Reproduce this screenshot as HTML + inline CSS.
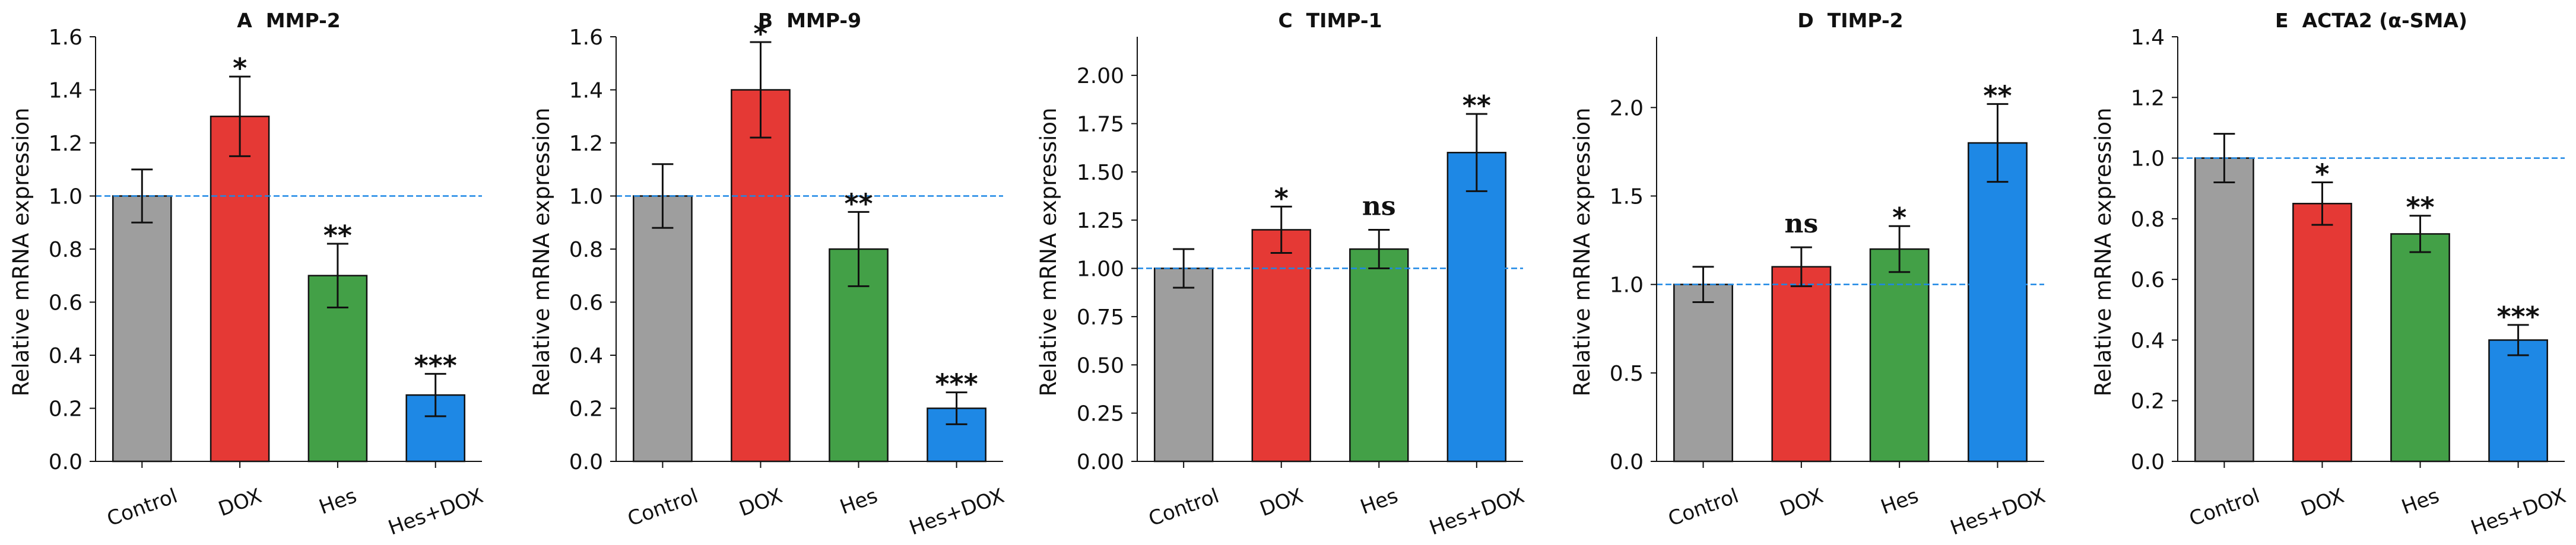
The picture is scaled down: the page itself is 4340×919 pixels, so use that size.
<!DOCTYPE html>
<html><head><meta charset="utf-8">
<style>
html,body{margin:0;padding:0;background:#fff;}
svg{display:block;}
text{font-family:"DejaVu Sans","Liberation Sans",sans-serif;fill:#111;white-space:pre;}
</style></head>
<body>
<svg id="fig" width="4340" height="919" viewBox="0 0 4340 919" xmlns="http://www.w3.org/2000/svg" xml:space="preserve"></svg>
<script>
// ---- data ----
const categories = ["Control","DOX","Hes","Hes+DOX"];
const panelTitles = ["A  MMP-2","B  MMP-9","C  TIMP-1","D  TIMP-2","E  ACTA2 (\u03b1-SMA)"];
const meansA = [1.0, 1.3, 0.7, 0.25];
const errsA  = [0.1, 0.15, 0.12, 0.08];
const sigA   = ["", "*", "**", "***"];
const meansB = [1.0, 1.4, 0.8, 0.2];
const errsB  = [0.12, 0.18, 0.14, 0.06];
const sigB   = ["", "*", "**", "***"];
const meansC = [1.0, 1.2, 1.1, 1.6];
const errsC  = [0.1, 0.12, 0.1, 0.2];
const sigC   = ["", "*", "ns", "**"];
const meansD = [1.0, 1.1, 1.2, 1.8];
const errsD  = [0.1, 0.11, 0.13, 0.22];
const sigD   = ["", "ns", "*", "**"];
const meansE = [1.0, 0.85, 0.75, 0.4];
const errsE  = [0.08, 0.07, 0.06, 0.05];
const sigE   = ["", "*", "**", "***"];
const yTicksA = [0,0.2,0.4,0.6,0.8,1.0,1.2,1.4,1.6];
const yTicksC = [0,0.25,0.5,0.75,1.0,1.25,1.5,1.75,2.0];
const yTicksD = [0,0.5,1.0,1.5,2.0];
const yTicksE = [0,0.2,0.4,0.6,0.8,1.0,1.2,1.4];
const yMaxes = [1.6, 1.6, 2.2, 2.4, 1.4];
const refLine = 1.0;

const colors = ["#9e9e9e","#e53935","#43a047","#1e88e5"];
const NS = "http://www.w3.org/2000/svg";
const svg = document.getElementById("fig");
function mk(tag, attrs, parent){
  const e = document.createElementNS(NS, tag);
  for (const k in attrs) e.setAttribute(k, attrs[k]);
  (parent||svg).appendChild(e);
  return e;
}
const panels = [
  {left:161, right:812, means:meansA, errs:errsA, sig:sigA, ticks:yTicksA, dec:1},
  {left:1038, right:1690, means:meansB, errs:errsB, sig:sigB, ticks:yTicksA, dec:1},
  {left:1916, right:2566, means:meansC, errs:errsC, sig:sigC, ticks:yTicksC, dec:2},
  {left:2791, right:3444, means:meansD, errs:errsD, sig:sigD, ticks:yTicksD, dec:1},
  {left:3669, right:4321, means:meansE, errs:errsE, sig:sigE, ticks:yTicksE, dec:1}
];
const TOP = 62, BOT = 778;
panels.forEach((p, pi) => {
  const g = mk("g", {});
  
  
  const ymax = yMaxes[pi];
  const y = v => BOT - v / ymax * (BOT - TOP);
  const xmin = -0.475, xmax = 3.475;
  const x = i => p.left + (i - xmin) / (xmax - xmin) * (p.right - p.left);
  const step = x(1) - x(0);
  const bw = step * 0.595;
  const t = mk("text", {x:(p.left+p.right)/2, y:46, "text-anchor":"middle", "font-size":33, "font-weight":"bold"}, g);
  t.textContent = panelTitles[pi];
  
  
  p.means.forEach((m, i) => {
    const r = mk("rect", {x:x(i)-bw/2, y:y(m), width:bw, height:BOT-y(m), fill:colors[i], stroke:"#111", "stroke-width":2.5}, g);
    
    
  });
  const rl = mk("line", {x1:p.left, x2:p.right, y1:y(refLine), y2:y(refLine), stroke:"#1e88e5", "stroke-width":2.5, "stroke-dasharray":"10 5"}, g);
  
  
  p.means.forEach((m, i) => {
    const e = p.errs[i], cx = x(i), hi = y(m+e), lo = y(m-e);
    const eg = mk("g", {stroke:"#111", "stroke-width":3}, g);
    
    
    mk("line", {x1:cx, x2:cx, y1:hi, y2:lo}, eg);
    mk("line", {x1:cx-18, x2:cx+18, y1:hi, y2:hi}, eg);
    mk("line", {x1:cx-18, x2:cx+18, y1:lo, y2:lo}, eg);
    const s = p.sig[i];
    if (s) {
      let st;
      if (s === "ns") {
        st = mk("text", {x:cx, y:hi-25, "text-anchor":"middle", "font-size":44, "font-weight":"bold", style:'font-family:"DejaVu Serif","Liberation Serif",serif'}, g);
      } else {
        st = mk("text", {x:cx, y:hi+2, "text-anchor":"middle", "font-size":46, "font-weight":"bold"}, g);
      }
      st.textContent = s;
      
      
    }
  });
  const ax = mk("g", {stroke:"#111", "stroke-width":2}, g);
  
  
  mk("line", {x1:p.left, x2:p.left, y1:TOP, y2:BOT+1}, ax);
  mk("line", {x1:p.left-1, x2:p.right, y1:BOT, y2:BOT}, ax);
  p.ticks.forEach(v => {
    mk("line", {x1:p.left-10, x2:p.left, y1:y(v), y2:y(v)}, ax);
    const tl = mk("text", {x:p.left-22, y:y(v)+13, "text-anchor":"end", "font-size":36}, g);
    tl.textContent = v.toFixed(p.dec);
    
    
  });
  categories.forEach((c, i) => {
    mk("line", {x1:x(i), x2:x(i), y1:BOT, y2:BOT+11}, ax);
    const xl = mk("text", {x:0, y:0, "text-anchor":"middle", "font-size":34}, g);
    xl.textContent = c;
    
    
    const w = xl.getComputedTextLength();
    const a = 20 * Math.PI / 180;
    const h = w * Math.sin(a) + 34 * Math.cos(a);
    const cy = 818 + h / 2;
    xl.setAttribute("transform", `translate(${x(i)},${cy}) rotate(-20)`);
    xl.setAttribute("dy", "12");
  });
  const ylx = p.left - (pi === 2 ? 150 : 126);
  const yl = mk("text", {x:0, y:0, "text-anchor":"middle", "font-size":37, transform:`translate(${ylx},${425}) rotate(-90)`, dy:13}, g);
  yl.textContent = "Relative mRNA expression";
  
  
});
</script>
</body></html>
